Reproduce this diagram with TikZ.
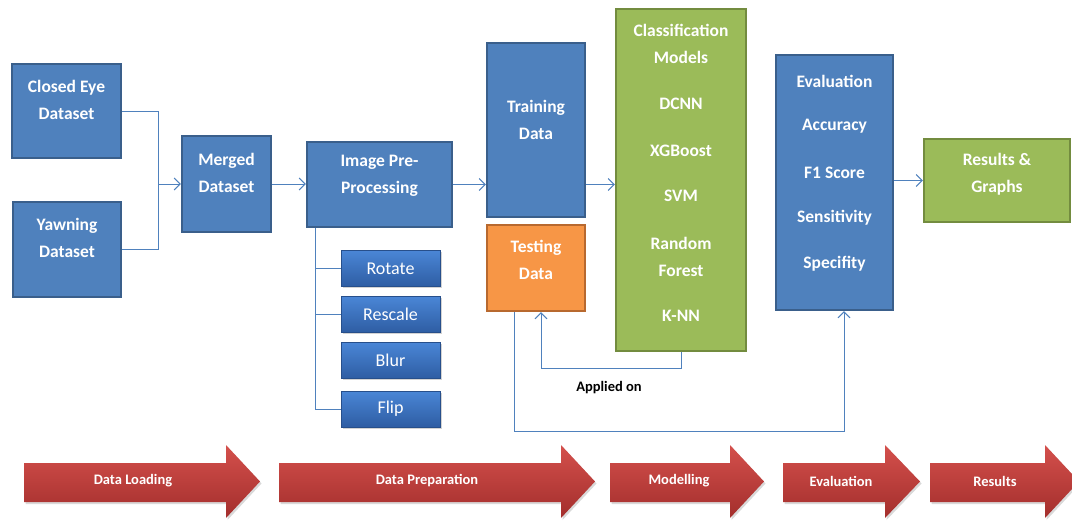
\documentclass[tikz,border=0pt]{standalone}
\usepackage{fontspec}
\setmainfont{Carlito}
\usetikzlibrary{arrows.meta,shadows}
\definecolor{obl}{HTML}{4F81BD}
\definecolor{oblb}{HTML}{3A5F8B}
\definecolor{ogr}{HTML}{9BBB59}
\definecolor{ogrb}{HTML}{738C3F}
\definecolor{oor}{HTML}{F79646}
\definecolor{oorb}{HTML}{B8692F}
\definecolor{sbt}{HTML}{4A86D6}
\definecolor{sbb}{HTML}{2E5DA3}
\definecolor{rdt}{HTML}{D4504C}
\definecolor{rdb}{HTML}{A32E2C}
\begin{document}
\begin{tikzpicture}[x=1pt,y=-1pt,
  box/.style={draw=oblb, fill=obl, line width=2.2pt, rectangle, inner sep=0pt},
  gbox/.style={box, draw=ogrb, fill=ogr},
  obox/.style={box, draw=oorb, fill=oor},
  sbox/.style={rectangle, top color=sbt, bottom color=sbb, draw=sbb!85!black, line width=0.6pt,
    minimum width=99pt, minimum height=36pt, text=white, font=\fontsize{18}{20}\selectfont,
    drop shadow={opacity=0.35, shadow xshift=1.5pt, shadow yshift=-1.5pt}},
  lbl/.style={text=white, font=\fontsize{17.5}{27}\selectfont\bfseries, align=center, inner sep=0pt},
  conn/.style={draw=obl, line width=1pt},
  arr/.style={conn, -{Straight Barb[length=6pt,width=12pt]}},
  redarr/.style={top color=rdt, bottom color=rdb, draw=none,
    drop shadow={opacity=0.3, shadow xshift=1.5pt, shadow yshift=-2pt}},
  rlbl/.style={text=white, font=\fontsize{14.5}{17}\selectfont\bfseries, inner sep=0pt}
]
\useasboundingbox (0,0) rectangle (1072,520);
\clip (0,0) rectangle (1072,520);

% boxes
\node[box, minimum width=109pt, minimum height=94pt] (ce) at (66.5,111) {};
\node[lbl] (tce) at (66.5,100) {Closed Eye\\Dataset};
\node[box, minimum width=108pt, minimum height=95pt] (ya) at (67,249.5) {};
\node[lbl] (tya) at (67,238) {Yawning\\Dataset};
\node[box, minimum width=89pt, minimum height=96pt] (mg) at (226.5,184) {};
\node[lbl] (tmg) at (226.5,173) {Merged\\Dataset};
\node[box, minimum width=145pt, minimum height=85pt] (ip) at (379.5,184.5) {};
\node[lbl] (tip) at (379.5,176) {Image Pre-\\Processing};

\node[sbox] (ro) at (390.5,268.5) {Rotate};
\node[sbox] (rs) at (390.5,314.5) {Rescale};
\node[sbox] (bl) at (390.5,360.5) {Blur};
\node[sbox] (fl) at (390.5,409) {Flip};

\node[box, minimum width=98pt, minimum height=174pt] (tr) at (536,130) {};
\node[lbl] (ttr) at (536,120) {Training\\Data};
\node[obox, minimum width=98pt, minimum height=86pt] (ts) at (536,268) {};
\node[lbl] (tts) at (536,260) {Testing\\Data};

\node[gbox, minimum width=130pt, minimum height=342pt] (cl) at (681,180) {};
\node[lbl] (c1) at (681,44) {Classification\\Models};
\node[lbl] (c2) at (681,104) {DCNN};
\node[lbl] (c3) at (681,151) {XGBoost};
\node[lbl] (c4) at (681,196) {SVM};
\node[lbl] (c5) at (681,256.5) {Random\\Forest};
\node[lbl] (c6) at (681,316) {K-NN};

\node[box, minimum width=117pt, minimum height=255pt] (ev) at (834.5,182.5) {};
\node[lbl] (e1) at (834.5,81) {Evaluation};
\node[lbl] (e2) at (834.5,126) {Accuracy};
\node[lbl] (e3) at (834.5,173) {F1 Score};
\node[lbl] (e4) at (834.5,218) {Sensitivity};
\node[lbl] (e5) at (834.5,264) {Specifity};

\node[gbox, minimum width=146pt, minimum height=83pt] (re) at (997,180.5) {};
\node[lbl] (tre) at (997,174.5) {Results \&\\Graphs};

\node[font=\fontsize{14.5}{16}\selectfont\bfseries, inner sep=0pt] (ap) at (609,388) {Applied on};

% connectors
\coordinate (j1) at (158,184);
\draw[conn] (ce.east) -| (j1);
\draw[conn] (ya.east) -| (j1);
\draw[arr] (j1) -- (mg.west);
\draw[arr] (mg.east) -- (mg.east -| ip.west);
\draw[arr] (ip.east) -- (ip.east -| tr.west);
\draw[arr] (tr.east |- ip.east) -- (cl.west |- ip.east);
\coordinate (vx) at (315,0);
\draw[conn] (ip.south -| vx) -- (vx |- fl.west) -- (fl.west);
\draw[conn] (vx |- ro.west) -- (ro.west);
\draw[conn] (vx |- rs.west) -- (rs.west);
\coordinate (ax) at (541,0);
\draw[arr] (cl.south) -- ++(0,16) -| (ax |- ts.south);
\coordinate (bx) at (514,0);
\coordinate (ex) at (844,0);
\draw[arr] (bx |- ts.south) -- ++(0,119) -| (ex |- ev.south);
\draw[arr] (ev.east |- re.west) -- (re.west);

% phase arrows
\path[redarr] (24,463) -- (226,463) -- (226,445) -- (260,481.5) -- (226,518) -- (226,502) -- (24,502) -- cycle;
\node[rlbl] (p1) at (133,481) {Data Loading};
\path[redarr] (279,463) -- (561,463) -- (561,445) -- (595,481.5) -- (561,518) -- (561,502) -- (279,502) -- cycle;
\node[rlbl] (p2) at (427,481) {Data Preparation};
\path[redarr] (610,463) -- (730,463) -- (730,445) -- (764,481.5) -- (730,518) -- (730,502) -- (610,502) -- cycle;
\node[rlbl] (p3) at (679,481) {Modelling};
\path[redarr] (783,463) -- (885,463) -- (885,445) -- (920,481.5) -- (885,518) -- (885,502) -- (783,502) -- cycle;
\node[rlbl] (p4) at (841,481) {Evaluation};
\path[redarr] (930,463) -- (1045,463) -- (1045,445) -- (1079,481.5) -- (1045,518) -- (1045,502) -- (930,502) -- cycle;
\node[rlbl] (p5) at (995,481) {Results};
\end{tikzpicture}
\end{document}
